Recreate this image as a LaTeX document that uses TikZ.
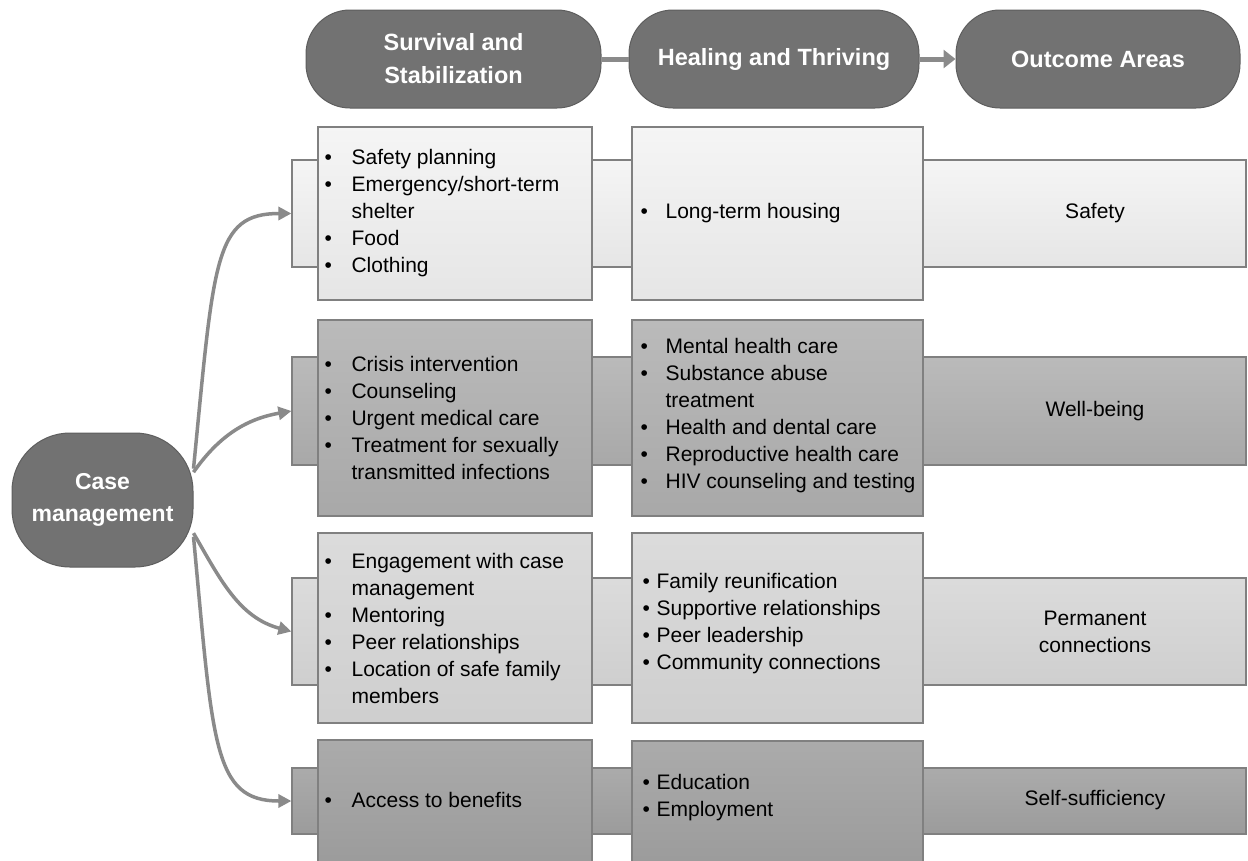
\documentclass[tikz,border=0pt]{standalone}
\usepackage{fontspec}
\setmainfont{Liberation Sans}
\usetikzlibrary{arrows.meta, positioning}

\definecolor{pillgray}{HTML}{727272}
\definecolor{pillline}{HTML}{5E5E5E}
\definecolor{boxline}{HTML}{808080}
\definecolor{flowgray}{HTML}{8A8A8A}

\newcommand{\itm}[2][27pt]{\makebox[#1][l]{\textbullet}#2}
\newcommand{\cnt}[2][27pt]{\hspace*{#1}#2}

\tikzset{
  pill/.style={draw=pillline, fill=pillgray, text=white, line width=1pt,
    font=\bfseries\fontsize{23.5}{33}\selectfont, align=center,
    rounded corners=44pt, minimum height=98pt, inner sep=0pt},
  band/.style={draw=boxline, line width=1.2pt, minimum width=954pt, inner sep=0pt},
  itembox/.style={draw=boxline, line width=1.2pt, inner sep=0pt},
  rowa/.style={top color=white!96!black, bottom color=white!90!black},
  rowb/.style={top color=white!73!black, bottom color=white!66!black},
  rowc/.style={top color=white!86!black, bottom color=white!81!black},
  rowd/.style={top color=white!67!black, bottom color=white!61!black},
  itemtext/.style={anchor=west, align=left, inner sep=0pt,
    font=\fontsize{21}{27}\selectfont},
  outtext/.style={align=center, inner sep=0pt, font=\fontsize{21}{27}\selectfont},
  headline/.style={draw=flowgray, line width=5pt},
  flow/.style={draw=flowgray, line width=3.5pt, -{Triangle[length=13pt,width=13pt]}},
}

\begin{document}
\begin{tikzpicture}[x=1pt, y=-1pt]
    \useasboundingbox (0,0) rectangle (1248,860);

    % column headers
    \node[pill, minimum width=295pt] (hs) at (453.5,59) {Survival and\\Stabilization};
    \node[pill, minimum width=290pt] (hh) at (774,59) {Healing and Thriving};
    \node[pill, minimum width=284pt] (ho) at (1098,59) {Outcome Areas};
    \draw[headline] (hs) -- (hh);
    \draw[headline, -{Triangle[length=12pt,width=18pt]}] (hh) -- (ho);

    % bands
    \node[band, rowa, minimum height=107pt] (b1) at (769,213.5) {};
    \node[band, rowb, minimum height=108pt] (b2) at (769,411) {};
    \node[band, rowc, minimum height=107pt] (b3) at (769,631.5) {};
    \node[band, rowd, minimum height=66pt] (b4) at (769,801) {};

    % survival and stabilization boxes
    \node[itembox, rowa, minimum width=274pt, minimum height=173pt] (s1) at (455,213.5) {};
    \node[itembox, rowb, minimum width=274pt, minimum height=196pt] (s2) at (455,418) {};
    \node[itembox, rowc, minimum width=274pt, minimum height=190pt] (s3) at (455,628) {};
    \node[itembox, rowd, minimum width=274pt, minimum height=122pt] (s4) at (455,801) {};

    % healing and thriving boxes
    \node[itembox, rowa, minimum width=291pt, minimum height=173pt] (h1) at (777.5,213.5) {};
    \node[itembox, rowb, minimum width=291pt, minimum height=196pt] (h2) at (777.5,418) {};
    \node[itembox, rowc, minimum width=291pt, minimum height=190pt] (h3) at (777.5,628) {};
    \node[itembox, rowd, minimum width=291pt, minimum height=122pt] (h4) at (777.5,802) {};

    % survival texts
    \node[itemtext] (s1t) at ([xshift=7pt]s1.west) {\itm{Safety planning}\\
        \itm{Emergency/short-term}\\ \cnt{shelter}\\ \itm{Food}\\ \itm{Clothing}};
    \node[itemtext] (s2t) at ([xshift=7pt]s2.west) {\itm{Crisis intervention}\\
        \itm{Counseling}\\ \itm{Urgent medical care}\\ \itm{Treatment for sexually}\\
        \cnt{transmitted infections}};
    \node[itemtext] (s3t) at ([xshift=7pt]s3.west) {\itm{Engagement with case}\\
        \cnt{management}\\ \itm{Mentoring}\\ \itm{Peer relationships}\\
        \itm{Location of safe family}\\ \cnt{members}};
    \node[itemtext] (s4t) at ([xshift=7pt,yshift=1pt]s4.west) {\itm{Access to benefits}};

    % healing texts
    \node[itemtext] (h1t) at ([xshift=9pt]h1.west) {\itm[25pt]{Long-term housing}};
    \node[itemtext] (h2t) at ([xshift=9pt,yshift=2.5pt]h2.west) {\itm[25pt]{Mental health care}\\
        \itm[25pt]{Substance abuse}\\ \cnt[25pt]{treatment}\\ \itm[25pt]{Health and dental care}\\
        \itm[25pt]{Reproductive health care}\\ \itm[25pt]{HIV counseling and testing}};
    \node[itemtext] (h3t) at ([xshift=11pt,yshift=4pt]h3.west) {\itm[14pt]{Family reunification}\\
        \itm[14pt]{Supportive relationships}\\ \itm[14pt]{Peer leadership}\\
        \itm[14pt]{Community connections}};
    \node[itemtext] (h4t) at ([xshift=11pt,yshift=4pt]h4.west) {\itm[14pt]{Education}\\
        \itm[14pt]{Employment}};

    % outcome areas
    \node[outtext] (o1) at (1095,213) {Safety};
    \node[outtext] (o2) at (1095,411) {Well-being};
    \node[outtext] (o3) at (1095,631.5) {Permanent\\connections};
    \node[outtext] (o4) at (1095,800) {Self-sufficiency};

    % case management
    \node[pill, rounded corners=58pt, minimum width=181pt, minimum height=134pt,
        font=\bfseries\fontsize{23}{32}\selectfont] (cm) at (102.5,500) {Case\\management};
    \draw[flow] (cm.19) .. controls (214,260) and (214,213.5) .. (b1.west);
    \draw[flow] (cm.17) to[out=55, in=190] (b2.west);
    \draw[flow] (cm.-20) to[out=-60, in=165] (b3.west);
    \draw[flow] (cm.-22) .. controls (213,745) and (213,801) .. (b4.west);
\end{tikzpicture}
\end{document}
